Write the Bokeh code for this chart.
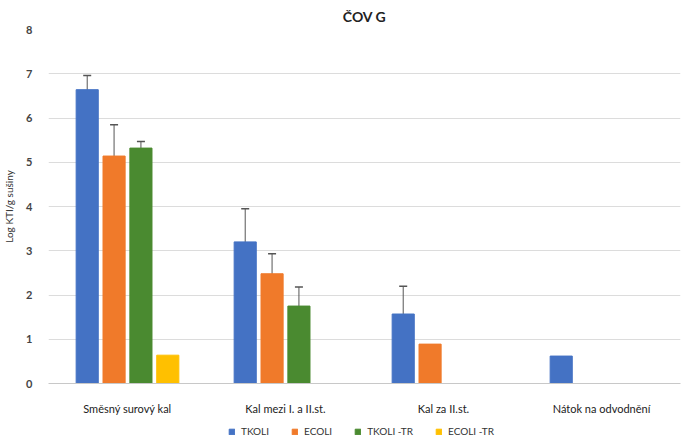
from bokeh.plotting import figure
from bokeh.layouts import column
from bokeh.models import (ColumnDataSource, Whisker, TeeHead, Legend, LegendItem,
                          FixedTicker, Range1d)
from bokeh.transform import dodge
from bokeh.embed import file_html
from bokeh.resources import INLINE

categories = ["Směsný surový kal", "Kal mezi I. a II.st.", "Kal za II.st.", "Nátok na odvodnění"]
series = ["TKOLI", "ECOLI", "TKOLI -TR", "ECOLI -TR"]
colors = ["#4472C4", "#F07A2A", "#4A8A30", "#FFC000"]

tkoli = [6.64, 3.20, 1.57, 0.62]
ecoli = [5.14, 2.48, 0.89, 0.0]
tkoli_tr = [5.32, 1.75, 0.0, 0.0]
ecoli_tr = [0.64, 0.0, 0.0, 0.0]

tkoli_err = [0.32, 0.75, 0.63, 0.0]
ecoli_err = [0.71, 0.45, 0.0, 0.0]
tkoli_tr_err = [0.15, 0.43, 0.0, 0.0]
ecoli_tr_err = [0.0, 0.0, 0.0, 0.0]

values = [tkoli, ecoli, tkoli_tr, ecoli_tr]
errors = [tkoli_err, ecoli_err, tkoli_tr_err, ecoli_tr_err]
offsets = [-0.255, -0.085, 0.085, 0.255]
FONT = "Lato"

# main bar chart
p = figure(x_range=categories, y_range=(0, 8), width=683, height=417,
           output_backend="svg", toolbar_location=None,
           min_border_left=8, min_border_right=3, min_border_top=8, min_border_bottom=2)

p.title.text = "ČOV G"
p.title.align = "center"
p.title.offset = -22
p.title.text_font = FONT
p.title.text_font_size = "14px"
p.title.text_font_style = "bold"
p.title.text_color = "#222222"

for name, vals, errs, off, col in zip(series, values, errors, offsets, colors):
    src = ColumnDataSource(dict(cat=categories, v=vals))
    p.vbar(x=dodge("cat", off, range=p.x_range), top="v", width=0.14, source=src,
           fill_color=col, line_color=col)
    keep = [i for i, e in enumerate(errs) if e > 0]
    if keep:
        wsrc = ColumnDataSource(dict(
            cat=[categories[i] for i in keep],
            up=[vals[i] + errs[i] for i in keep],
            lo=[vals[i] - errs[i] for i in keep],
        ))
        w = Whisker(base=dodge("cat", off, range=p.x_range), upper="up", lower="lo",
                    source=wsrc, line_color="#555555", line_width=1,
                    upper_head=TeeHead(size=8, line_color="#555555", line_width=1.5),
                    lower_head=None)
        p.add_layout(w)

p.yaxis.ticker = FixedTicker(ticks=list(range(0, 9)))
p.yaxis.axis_label = "Log KTI/g sušiny"
p.yaxis.axis_label_text_font = FONT
p.yaxis.axis_label_text_font_size = "10px"
p.yaxis.axis_label_text_font_style = "normal"
p.yaxis.axis_label_text_color = "#333333"
p.yaxis.axis_label_standoff = 8
p.yaxis.major_label_text_font = FONT
p.yaxis.major_label_text_font_size = "11px"
p.yaxis.major_label_text_font_style = "bold"
p.yaxis.major_label_text_color = "#444444"
p.yaxis.axis_line_color = None
p.yaxis.major_tick_line_color = None
p.yaxis.minor_tick_line_color = None
p.yaxis.major_label_standoff = 10

p.xaxis.major_label_text_font = FONT
p.xaxis.major_label_text_font_size = "11px"
p.xaxis.major_label_text_color = "#222222"
p.xaxis.axis_line_color = "#c8c8c8"
p.xaxis.major_tick_line_color = None
p.xaxis.minor_tick_line_color = None
p.xaxis.major_label_standoff = 12

p.xgrid.grid_line_color = None
p.ygrid.grid_line_color = "#dcdcdc"
p.outline_line_color = None
p.x_range.range_padding = 0.0

# legend strip under the chart; each swatch renderer holds one zero-height bar
# parked outside the strip's visible range, so only the legend shows it
leg = figure(width=683, height=20, output_backend="svg", toolbar_location=None,
             x_range=Range1d(0, 1), y_range=Range1d(0, 1),
             x_axis_location=None, y_axis_location=None, min_border=0)
leg.grid.grid_line_color = None
leg.outline_line_color = None
items = []
for name, col in zip(series, colors):
    r = leg.vbar(x=[-10], top=[0], width=0.1, fill_color=col, line_color=col)
    items.append(LegendItem(label=name, renderers=[r]))
legend = Legend(items=items, orientation="horizontal", location=(180, 0),
                label_text_font=FONT, label_text_font_size="10px", label_text_color="#333333",
                label_height=10, glyph_width=7, glyph_height=7, spacing=22,
                padding=2, margin=0, border_line_color=None, background_fill_alpha=0,
                label_standoff=6)
leg.add_layout(legend)

open("out.html", "w").write(file_html(column(p, leg, spacing=0), INLINE))
